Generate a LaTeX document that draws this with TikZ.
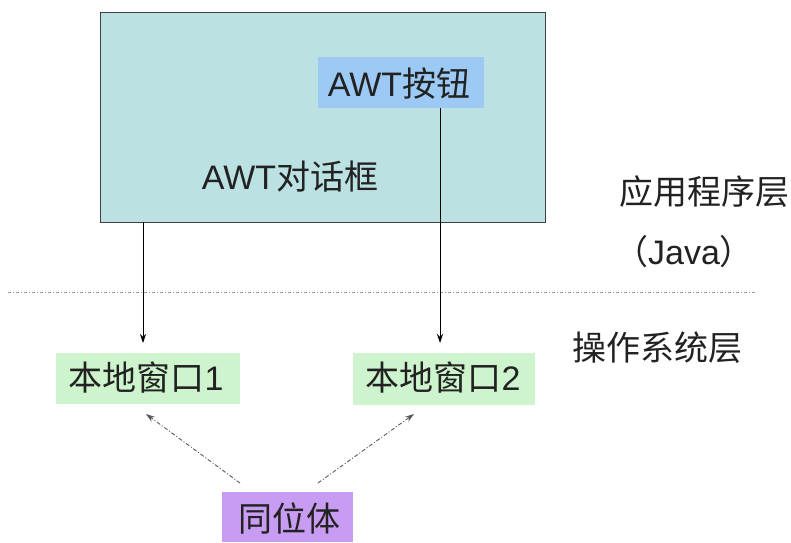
\documentclass[tikz,border=0pt]{standalone}
\usepackage{fontspec}
\setmainfont{Liberation Sans}
\newfontfamily\cjk{Noto Sans CJK SC}
\usetikzlibrary{arrows.meta}
\definecolor{dlgfill}{HTML}{BCE1E3}
\definecolor{btnfill}{HTML}{9DCAF5}
\definecolor{winfill}{HTML}{CDF4CD}
\definecolor{peerfill}{HTML}{C89CF2}
\definecolor{txt}{HTML}{222222}
\tikzset{
  lbl/.style={font=\fontsize{34}{40}\selectfont, text=txt, inner sep=0pt},
  solidarrow/.style={draw=black, line width=0.9pt, -{Stealth[length=9pt,width=6pt]}},
  peerarrow/.style={draw=gray!70!black, line width=0.9pt, dash pattern=on 4pt off 2pt on 1pt off 2pt, -{Stealth[length=9pt,width=6pt]}},
}
\begin{document}
\begin{tikzpicture}[x=1pt,y=-1pt]
\useasboundingbox (0,0) rectangle (791,542);
% dialog
\node[draw=black!75, line width=1.1pt, fill=dlgfill, minimum width=445pt, minimum height=210pt, anchor=north west, inner sep=0pt] (dlg) at (100,12) {};
\node[fill=btnfill, minimum width=166pt, minimum height=51pt, anchor=north west, inner sep=0pt] (btn) at (318,57) {};
\node[lbl] (btntxt) at (399,84) {AWT{\cjk 按钮}};
\node[lbl] (dlgtxt) at (290,177) {AWT{\cjk 对话框}};
% layer labels
\node[lbl, anchor=west] (app) at (619,192) {\cjk 应用程序层};
\node[lbl] (java) at (684,252) {{\cjk （}Java{\cjk ）}};
\node[lbl, anchor=west] (os) at (572,348) {\cjk 操作系统层};
% separator
\coordinate (sepL) at (8,292);
\coordinate (sepR) at (757,292);
\draw[gray!80, line width=1pt, dash pattern=on 3pt off 2pt on 1pt off 2pt] (sepL) -- (sepR);
% native windows
\node[fill=winfill, minimum width=184pt, minimum height=51pt, anchor=north west, inner sep=0pt] (w1) at (56,353) {};
\node[lbl] (w1t) at (146,378) {{\cjk 本地窗口}1};
\node[fill=winfill, minimum width=182pt, minimum height=52pt, anchor=north west, inner sep=0pt] (w2) at (353,353) {};
\node[lbl] (w2t) at (443,378) {{\cjk 本地窗口}2};
% peer
\node[fill=peerfill, minimum width=131pt, minimum height=50pt, anchor=north west, inner sep=0pt] (peer) at (222,492) {};
\node[lbl] (peert) at (289,518) {\cjk 同位体};
% arrows
\coordinate (a1s) at (143,222);
\coordinate (a1e) at (143,343);
\draw[solidarrow] (a1s) -- (a1e);
\coordinate (a2s) at (440,108);
\coordinate (a2e) at (440,343);
\draw[solidarrow] (a2s) -- (a2e);
\coordinate (p1s) at (240,483);
\coordinate (p1e) at (146,414);
\draw[peerarrow] (p1s) -- (p1e);
\coordinate (p2s) at (318,483);
\coordinate (p2e) at (414,414);
\draw[peerarrow] (p2s) -- (p2e);
\end{tikzpicture}
\end{document}
